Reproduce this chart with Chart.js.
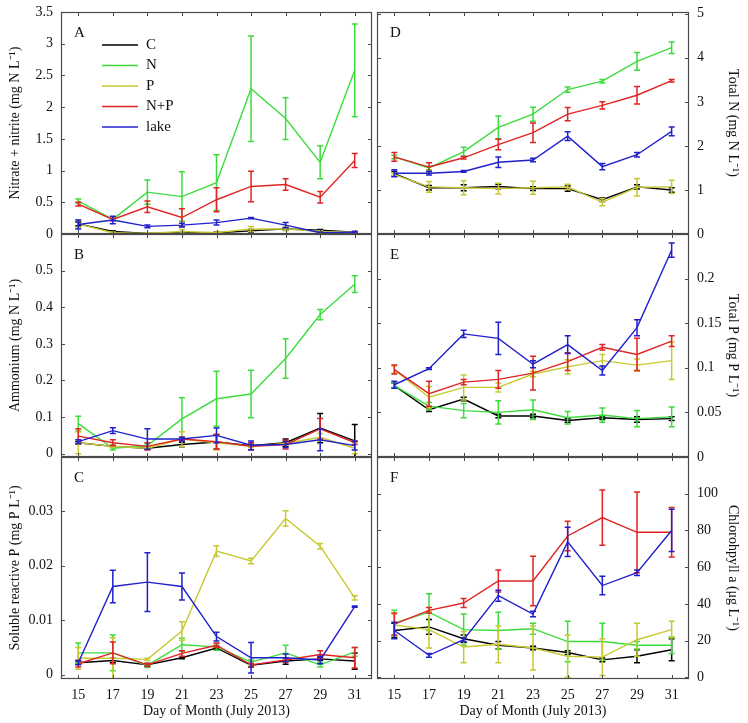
<!DOCTYPE html>
<html>
<head>
<meta charset="utf-8">
<script src="https://cdn.jsdelivr.net/npm/chart.js@4.4.0/dist/chart.umd.min.js"></script>
<style>
    body { margin: 0; background: #fff; }
    #wrap { position: relative; width: 748px; height: 723px; }
    #wrap canvas { position: absolute; }
</style>
</head>
<body>
<div id="wrap">
    <canvas id="cA" width="374" height="246" style="left:0;top:0"></canvas>
    <canvas id="cB" width="374" height="235" style="left:0;top:234px"></canvas>
    <canvas id="cC" width="374" height="266" style="left:0;top:457px"></canvas>
    <canvas id="cD" width="374" height="246" style="left:374px;top:0"></canvas>
    <canvas id="cE" width="374" height="235" style="left:374px;top:234px"></canvas>
    <canvas id="cF" width="374" height="266" style="left:374px;top:457px"></canvas>
</div>
<script>
// sampling days
const days = [15, 17, 19, 21, 23, 25, 27, 29, 31];
const dayTicks = [15, 17, 19, 21, 23, 25, 27, 29, 31];
const seriesNames = ['C', 'N', 'P', 'N+P', 'lake'];
const seriesColors = ['#000000', '#3ddc3d', '#c8c832', '#e02424', '#2020cc'];

// A - nitrate + nitrite
const aC = [0.16, 0.04, 0.01, 0.02, 0.02, 0.05, 0.08, 0.06, 0.03];
const aCe = [0.03, 0.01, 0.01, 0.01, 0.01, 0.02, 0.02, 0.01, 0.01];
const aN = [0.52, 0.23, 0.66, 0.59, 0.81, 2.29, 1.82, 1.13, 2.58];
const aNe = [0.03, 0.02, 0.19, 0.39, 0.44, 0.83, 0.33, 0.26, 0.73];
const aP = [0.16, 0.02, 0.01, 0.04, 0.02, 0.08, 0.08, 0.04, 0.03];
const aPe = [0.06, 0.01, 0.01, 0.03, 0.01, 0.04, 0.03, 0.01, 0.01];
const aNP = [0.47, 0.23, 0.43, 0.26, 0.54, 0.75, 0.78, 0.58, 1.16];
const aNPe = [0.03, 0.02, 0.09, 0.14, 0.19, 0.24, 0.09, 0.09, 0.11];
const aL = [0.15, 0.22, 0.12, 0.14, 0.18, 0.25, 0.14, 0.02, 0.03];
const aLe = [0.07, 0.06, 0.02, 0.03, 0.04, 0.01, 0.04, 0.01, 0.01];
const aTicks = [0, 0.5, 1, 1.5, 2, 2.5, 3, 3.5];

// B - ammonium
const bC = [0.030, 0.020, 0.015, 0.025, 0.032, 0.022, 0.030, 0.070, 0.035];
const bCe = [0.003, 0.003, 0.003, 0.006, 0.020, 0.004, 0.010, 0.040, 0.045];
const bN = [0.082, 0.015, 0.022, 0.095, 0.150, 0.163, 0.260, 0.380, 0.463];
const bNe = [0.020, 0.005, 0.005, 0.058, 0.075, 0.065, 0.054, 0.014, 0.023];
const bP = [0.030, 0.020, 0.015, 0.040, 0.030, 0.020, 0.028, 0.045, 0.015];
const bPe = [0.030, 0.003, 0.003, 0.020, 0.020, 0.003, 0.005, 0.010, 0.015];
const bNP = [0.048, 0.030, 0.020, 0.040, 0.033, 0.020, 0.025, 0.068, 0.030];
const bNPe = [0.020, 0.008, 0.010, 0.005, 0.020, 0.010, 0.012, 0.028, 0.005];
const bL = [0.033, 0.063, 0.040, 0.040, 0.050, 0.023, 0.025, 0.038, 0.022];
const bLe = [0.005, 0.008, 0.028, 0.005, 0.020, 0.012, 0.008, 0.030, 0.012];
const bTicks = [0, 0.1, 0.2, 0.3, 0.4, 0.5];

// C - soluble reactive P
const cC = [0.0022, 0.0026, 0.0018, 0.0031, 0.0049, 0.0017, 0.0025, 0.0029, 0.0025];
const cCe = [0.0003, 0.0004, 0.0002, 0.0002, 0.0003, 0.0003, 0.0006, 0.0003, 0.0015];
const cN = [0.0040, 0.0040, 0.0017, 0.0055, 0.0051, 0.0023, 0.0040, 0.0018, 0.0042];
const cNe = [0.0018, 0.0033, 0.0004, 0.0012, 0.0006, 0.0004, 0.0014, 0.0004, 0.0008];
const cP = [0.0030, 0.0030, 0.0028, 0.0080, 0.0227, 0.0209, 0.0287, 0.0236, 0.0141];
const cPe = [0.0020, 0.0038, 0.0002, 0.0017, 0.0010, 0.0005, 0.0014, 0.0005, 0.0004];
const cNP = [0.0020, 0.0040, 0.0018, 0.0039, 0.0054, 0.0018, 0.0027, 0.0037, 0.0031];
const cNPe = [0.0006, 0.0020, 0.0003, 0.0005, 0.0004, 0.0003, 0.0004, 0.0007, 0.0019];
const cL = [0.0022, 0.0162, 0.0170, 0.0162, 0.0070, 0.0031, 0.0031, 0.0027, 0.0125];
const cLe = [0.0004, 0.0030, 0.0054, 0.0025, 0.0008, 0.0028, 0.0007, 0.0007, 0.0001];
const cTicks = [0, 0.01, 0.02, 0.03];

// D - total N
const dC = [1.37, 1.05, 1.05, 1.08, 1.03, 1.03, 0.78, 1.07, 1.00];
const dCe = [0.05, 0.05, 0.07, 0.05, 0.04, 0.06, 0.04, 0.05, 0.05];
const dN = [1.75, 1.50, 1.87, 2.42, 2.72, 3.28, 3.47, 3.92, 4.23];
const dNe = [0.04, 0.04, 0.10, 0.26, 0.16, 0.06, 0.04, 0.20, 0.13];
const dP = [1.35, 1.07, 1.05, 1.03, 1.05, 1.07, 0.72, 1.06, 1.07];
const dPe = [0.03, 0.12, 0.16, 0.12, 0.15, 0.06, 0.08, 0.20, 0.15];
const dNP = [1.75, 1.52, 1.73, 2.03, 2.30, 2.72, 2.92, 3.15, 3.48];
const dNPe = [0.10, 0.10, 0.03, 0.12, 0.22, 0.15, 0.08, 0.20, 0.03];
const dL = [1.38, 1.38, 1.42, 1.63, 1.68, 2.22, 1.53, 1.80, 2.33];
const dLe = [0.08, 0.04, 0.02, 0.12, 0.04, 0.10, 0.07, 0.05, 0.10];
const dTicks = [0, 1, 2, 3, 4, 5];

// E - total P
const eC = [0.080, 0.053, 0.065, 0.046, 0.046, 0.041, 0.044, 0.042, 0.043];
const eCe = [0.003, 0.002, 0.002, 0.002, 0.002, 0.002, 0.002, 0.003, 0.002];
const eN = [0.080, 0.057, 0.052, 0.050, 0.053, 0.044, 0.047, 0.043, 0.045];
const eNe = [0.003, 0.004, 0.008, 0.013, 0.011, 0.007, 0.008, 0.009, 0.011];
const eP = [0.098, 0.067, 0.078, 0.078, 0.093, 0.101, 0.108, 0.103, 0.108];
const ePe = [0.004, 0.012, 0.014, 0.005, 0.003, 0.008, 0.007, 0.007, 0.021];
const eNP = [0.098, 0.071, 0.084, 0.087, 0.094, 0.107, 0.123, 0.115, 0.130];
const eNPe = [0.005, 0.014, 0.003, 0.010, 0.019, 0.010, 0.003, 0.018, 0.006];
const eL = [0.081, 0.099, 0.138, 0.133, 0.104, 0.126, 0.097, 0.145, 0.232];
const eLe = [0.004, 0.001, 0.004, 0.018, 0.004, 0.010, 0.005, 0.009, 0.008];
const eTicks = [0, 0.05, 0.1, 0.15, 0.2];

// F - chlorophyll a
const fC = [25.5, 27.5, 21, 17.5, 16, 13.5, 9.5, 11.5, 15];
const fCe = [4, 4, 2, 2, 1, 1, 1, 3.5, 6];
const fN = [29.5, 35.5, 26, 25.5, 26.5, 19.5, 19.5, 17.5, 17.5];
const fNe = [7, 10, 8.5, 10, 3, 11, 10, 2, 4.5];
const fP = [28.5, 26, 16.5, 18, 16, 11.5, 11, 20.5, 26];
const fPe = [6, 10, 8.5, 10, 12, 11.5, 10, 9, 4.5];
const fNP = [29, 36.5, 40.5, 52.5, 52.5, 77, 87, 79, 79];
const fNPe = [6, 1.5, 2.5, 6, 13.5, 8, 15, 22, 13.5];
const fL = [25.5, 12, 20.5, 44.5, 34.5, 73.8, 50, 57, 80];
const fLe = [4.5, 1, 1, 3, 1.5, 8, 5, 1.5, 11.5];
const fTicks = [0, 20, 40, 60, 80, 100];

const FONT = 'Liberation Serif, Times New Roman, serif';
const AXIS_COLOR = '#4a4a4a';

// error bars, drawn right after each line so the stacking follows the lines
const errorBarPlugin = {
    id: 'errorBars',
    afterDatasetDraw(chart, args) {
        const ds = chart.data.datasets[args.index];
        if (!ds.errors) return;
        const { ctx, chartArea, scales } = chart;
        ctx.save();
        ctx.beginPath();
        ctx.rect(chartArea.left, chartArea.top, chartArea.width, chartArea.height);
        ctx.clip();
        ctx.strokeStyle = ds.borderColor;
        ctx.lineWidth = 1.5;
        ds.data.forEach(function (p, i) {
            const e = ds.errors[i];
            if (!e) return;
            const x = scales.x.getPixelForValue(p.x);
            const yLo = scales.y.getPixelForValue(p.y - e);
            const yHi = scales.y.getPixelForValue(p.y + e);
            ctx.beginPath();
            ctx.moveTo(x, yLo); ctx.lineTo(x, yHi);
            ctx.moveTo(x - 3, yLo); ctx.lineTo(x + 3, yLo);
            ctx.moveTo(x - 3, yHi); ctx.lineTo(x + 3, yHi);
            ctx.stroke();
        });
        ctx.restore();
    }
};

// frame, inward ticks, panel letter and the legend of panel A
const panelPlugin = {
    id: 'panelDecor',
    afterDraw(chart, args, opts) {
        const { ctx, chartArea: a, scales } = chart;
        ctx.save();
        ctx.strokeStyle = AXIS_COLOR;
        ctx.lineWidth = 1.2;
        ctx.strokeRect(a.left + 0.5, a.top + 0.5, a.width - 1, a.height - 1);

        ctx.lineWidth = 1;
        ctx.beginPath();
        scales.x.ticks.forEach(function (t) {
            const x = Math.round(scales.x.getPixelForValue(t.value)) + 0.5;
            ctx.moveTo(x, a.top); ctx.lineTo(x, a.top + 4);
            ctx.moveTo(x, a.bottom); ctx.lineTo(x, a.bottom - 4);
        });
        scales.y.ticks.forEach(function (t) {
            const y = Math.round(scales.y.getPixelForValue(t.value)) + 0.5;
            ctx.moveTo(a.left, y); ctx.lineTo(a.left + 4, y);
            ctx.moveTo(a.right, y); ctx.lineTo(a.right - 4, y);
        });
        ctx.stroke();

        ctx.fillStyle = '#111';
        ctx.font = '15px ' + FONT;
        ctx.textBaseline = 'middle';
        ctx.textAlign = 'left';
        ctx.fillText(opts.letter, a.left + 13, a.top + 21);

        if (opts.legend) {
            chart.data.datasets.forEach(function (ds, i) {
                const y = a.top + 33 + i * 20.5;
                ctx.strokeStyle = ds.borderColor;
                ctx.lineWidth = 1.5;
                ctx.beginPath();
                ctx.moveTo(a.left + 41, y); ctx.lineTo(a.left + 77, y);
                ctx.stroke();
                ctx.fillStyle = '#111';
                ctx.fillText(ds.label, a.left + 85, y);
            });
        }
        ctx.restore();
    }
};

function fmt(v) {
    return String(Number(v.toFixed(4)));
}

// no extra room for half labels, the frame sizes are fixed
function noPad(axis) {
    axis.paddingTop = 0;
    axis.paddingBottom = 0;
    axis.paddingLeft = 0;
    axis.paddingRight = 0;
}

function makePanel(id, cfg) {
    const isLeft = cfg.side === 'left';
    const isBottom = cfg.bottom;
    const datasets = cfg.values.map(function (vals, i) {
        return {
            label: seriesNames[i],
            data: vals.map(function (v, j) { return { x: days[j], y: v }; }),
            errors: cfg.errors[i],
            borderColor: seriesColors[i],
            backgroundColor: seriesColors[i],
            borderWidth: 1.4,
            pointRadius: 0,
            tension: 0,
            order: 5 - i
        };
    });

    new Chart(document.getElementById(id), {
        type: 'line',
        data: { datasets: datasets },
        plugins: [errorBarPlugin, panelPlugin],
        options: {
            responsive: false,
            animation: false,
            devicePixelRatio: 1,
            layout: {
                padding: {
                    top: cfg.padTop,
                    left: isLeft ? 0 : 3,
                    right: isLeft ? 2 : 0,
                    bottom: isBottom ? 0 : 10
                }
            },
            plugins: {
                legend: { display: false },
                tooltip: { enabled: false },
                panelDecor: { letter: cfg.letter, legend: !!cfg.legend }
            },
            scales: {
                x: {
                    type: 'linear',
                    min: 14,
                    max: 32,
                    afterBuildTicks: function (axis) {
                        axis.ticks = dayTicks.map(function (v) { return { value: v }; });
                    },
                    afterFit: function (axis) {
                        axis.height = isBottom ? 44 : 2;
                        noPad(axis);
                    },
                    grid: { display: false, drawTicks: false },
                    border: { display: false },
                    ticks: {
                        display: isBottom,
                        padding: 8,
                        color: '#111',
                        font: { family: FONT, size: 14 },
                        callback: function (v) { return fmt(v); }
                    },
                    title: {
                        display: isBottom,
                        text: 'Day of Month (July 2013)',
                        color: '#111',
                        font: { family: FONT, size: 14 },
                        padding: { top: 0, bottom: 3 }
                    }
                },
                y: {
                    type: 'linear',
                    position: cfg.side,
                    min: cfg.min,
                    max: cfg.max,
                    afterBuildTicks: function (axis) {
                        axis.ticks = cfg.ticks.map(function (v) { return { value: v }; });
                    },
                    afterFit: function (axis) {
                        axis.width = isLeft ? 61 : 59;
                        noPad(axis);
                    },
                    grid: { display: false, drawTicks: false },
                    border: { display: false },
                    ticks: {
                        padding: 8,
                        color: '#111',
                        font: { family: FONT, size: 14 },
                        callback: function (v) { return fmt(v); }
                    },
                    title: {
                        display: true,
                        text: cfg.title,
                        color: '#111',
                        font: { family: FONT, size: 14 },
                        padding: { top: 7, bottom: 0 }
                    }
                }
            }
        }
    });
}

makePanel('cA', {
    letter: 'A', legend: true, side: 'left', bottom: false, padTop: 12,
    min: 0, max: 3.5, ticks: aTicks,
    title: 'Nitrate + nitrite (mg N L⁻¹)',
    values: [aC, aN, aP, aNP, aL], errors: [aCe, aNe, aPe, aNPe, aLe]
});
makePanel('cB', {
    letter: 'B', side: 'left', bottom: false, padTop: 0,
    min: -0.009, max: 0.6, ticks: bTicks,
    title: 'Ammonium (mg N L⁻¹)',
    values: [bC, bN, bP, bNP, bL], errors: [bCe, bNe, bPe, bNPe, bLe]
});
makePanel('cC', {
    letter: 'C', side: 'left', bottom: true, padTop: 0,
    min: -0.0008, max: 0.04, ticks: cTicks,
    title: 'Soluble reactive P (mg P L⁻¹)',
    values: [cC, cN, cP, cNP, cL], errors: [cCe, cNe, cPe, cNPe, cLe]
});
makePanel('cD', {
    letter: 'D', side: 'right', bottom: false, padTop: 12,
    min: 0, max: 5.04, ticks: dTicks,
    title: 'Total N (mg N L⁻¹)',
    values: [dC, dN, dP, dNP, dL], errors: [dCe, dNe, dPe, dNPe, dLe]
});
makePanel('cE', {
    letter: 'E', side: 'right', bottom: false, padTop: 0,
    min: 0, max: 0.25, ticks: eTicks,
    title: 'Total P (mg P L⁻¹)',
    values: [eC, eN, eP, eNP, eL], errors: [eCe, eNe, ePe, eNPe, eLe]
});
makePanel('cF', {
    letter: 'F', side: 'right', bottom: true, padTop: 0,
    min: -0.9, max: 120, ticks: fTicks,
    title: 'Chlorohpyll a (μg L⁻¹)',
    values: [fC, fN, fP, fNP, fL], errors: [fCe, fNe, fPe, fNPe, fLe]
});
</script>
</body>
</html>
